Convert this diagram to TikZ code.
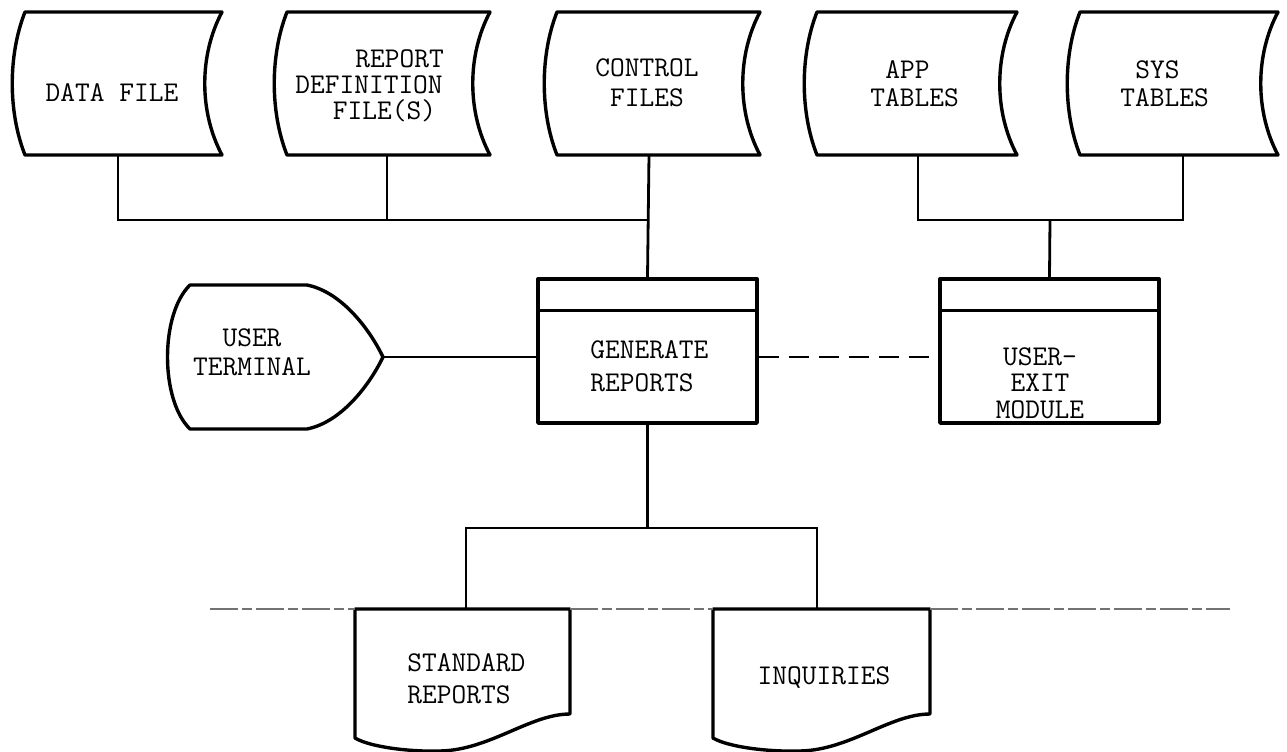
\documentclass[tikz,border=0pt]{standalone}
\usepackage{fontspec}
\begin{document}
\begin{tikzpicture}[x=0.5pt,y=-0.5pt,
  outline/.style={line width=1.7pt, line join=round},
  link/.style={line width=1.4pt},
  dashlink/.style={line width=1.3pt, dash pattern=on 10pt off 5pt},
  fold/.style={line width=0.6pt, black!55, dash pattern=on 14pt off 2pt on 5pt off 2pt},
  procbox/.style={draw, outline, rectangle, minimum width=109.5pt, minimum height=72pt, inner sep=0pt},
  lbl/.style={font=\fontsize{14.3pt}{#1}\selectfont\ttfamily, inner sep=0pt, align=center},
  lbl/.default=14pt,
]
\useasboundingbox (0,0) rectangle (1287,751);

% on-line storage symbol: left x, right x
\newcommand\storagesym[2]{%
  \draw[outline] (#1,12) -- (#2,12)
    .. controls (#2-23,55) and (#2-23,112) .. (#2,155) -- (#1,155)
    .. controls (#1-17,112) and (#1-17,55) .. (#1,12) -- cycle;}
% document symbol: left x, right x
\newcommand\docsym[2]{%
  \draw[outline] (#1,609) -- (#2,609) -- (#2,714)
    .. controls (#2-40,714) and (#2-80,750) .. (#2-130,751)
    .. controls (#1+55,752) and (#1+15,747) .. (#1,738) -- cycle;}

% files along the top
\storagesym{25}{222}
\storagesym{287}{490}
\storagesym{557}{760}
\storagesym{817}{1017}
\storagesym{1080}{1278}

\node[lbl] (df) at (112,93) {DATA FILE};
\node[lbl=13pt, align=left, anchor=west] (rd) at (295,86)
  {\hspace*{30pt}REPORT\\DEFINITION\\\hspace*{18.75pt}FILE(S)};
\node[lbl=15pt] (cf) at (647,83) {CONTROL\\FILES};
\node[lbl, align=left, anchor=west] (at) at (870,84) {\hspace*{7.5pt}APP\\TABLES};
\node[lbl, align=left, anchor=west] (st) at (1120,84) {\hspace*{7.5pt}SYS\\TABLES};

\coordinate (df-s) at (118,155);
\coordinate (rd-s) at (387,155);
\coordinate (cf-s) at (649,155);
\coordinate (at-s) at (918,155);
\coordinate (st-s) at (1183,155);
\coordinate (jl) at (649,220);
\coordinate (jr) at (1050,220);

% processes
\node[procbox] (gen) at (647.5,351) {};
\node[procbox] (ux) at (1049.5,351) {};
\draw[outline] ([yshift=-16.5pt]gen.north west) -- ([yshift=-16.5pt]gen.north east);
\draw[outline] ([yshift=-16.5pt]ux.north west) -- ([yshift=-16.5pt]ux.north east);
\node[lbl=16.5pt, align=left, anchor=west] (gen-t) at (590,366) {GENERATE\\REPORTS};
\node[lbl=13.25pt] (ux-t) at (1040,383) {USER-\\EXIT\\MODULE};

% user terminal (display symbol)
\draw[outline] (190,285) -- (307,285)
  .. controls (342,292) and (370,330) .. (383,357)
  .. controls (370,384) and (342,422) .. (307,429) -- (190,429)
  .. controls (160,400) and (160,314) .. (190,285) -- cycle;
\coordinate (ut-p) at (383,357);
\node[lbl=14.5pt] (ut) at (252,352) {USER\\TERMINAL};

% outputs
\docsym{355}{570}
\docsym{713}{930}
\node[lbl=16pt, align=left, anchor=west] (sr) at (407,679) {STANDARD\\REPORTS};
\node[lbl] (iq) at (824,678) {INQUIRIES};
\coordinate (sr-t) at (466,609);
\coordinate (iq-t) at (817,609);
\coordinate (jb) at (647.5,528);

% connectors
\draw[link] (df-s) |- (jl);
\draw[link] (rd-s) -- (rd-s |- jl);
\draw[link] (cf-s) -- (gen.north);
\draw[link] (at-s) |- (jr) -| (st-s);
\draw[link] (jr) -- (ux.north);
\draw[link] (ut-p) -- (gen.west |- ut-p);
\draw[dashlink] (gen.east |- ut-p) -- (ux.west |- ut-p);
\draw[link] (gen.south) -- (jb);
\draw[link] (sr-t) |- (jb) -| (iq-t);

% faint rule across the output row
\draw[fold] (210,609) -- (355,609);
\draw[fold] (570,609) -- (713,609);
\draw[fold] (930,609) -- (1230,609);
\end{tikzpicture}
\end{document}
